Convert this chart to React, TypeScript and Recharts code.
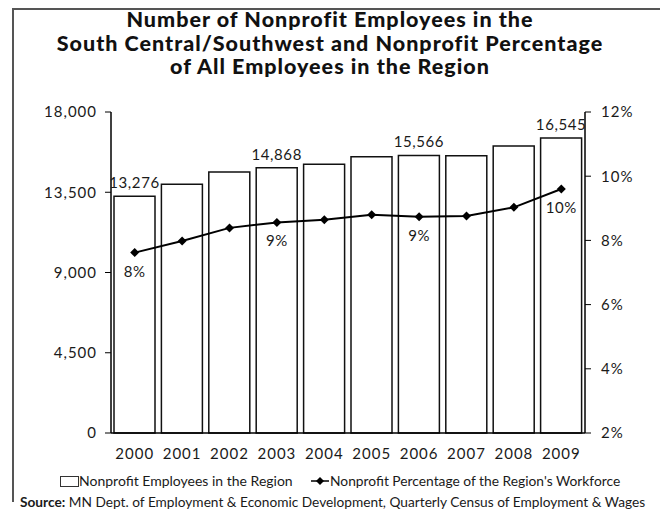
import React from 'react';
import { ComposedChart, Bar, Line, XAxis, YAxis, LabelList } from 'recharts';

const years = ['2000', '2001', '2002', '2003', '2004', '2005', '2006', '2007', '2008', '2009'];
const employees = [13276, 13946, 14636, 14868, 15067, 15495, 15566, 15548, 16093, 16545];
const percentages = [7.62, 7.98, 8.39, 8.56, 8.64, 8.8, 8.74, 8.76, 9.03, 9.6];
const labeledIndices = [0, 3, 6, 9];
const leftTicks = [0, 4500, 9000, 13500, 18000];
const rightTicks = [2, 4, 6, 8, 10, 12];
const titleLines = [
  'Number of Nonprofit Employees in the',
  'South Central/Southwest and Nonprofit Percentage',
  'of All Employees in the Region',
];
const barLegend = 'Nonprofit Employees in the Region';
const lineLegend = "Nonprofit Percentage of the Region's Workforce";
const sourceText = 'MN Dept. of Employment & Economic Development, Quarterly Census of Employment & Wages';

const data = years.map((y, i) => ({ year: y, employees: employees[i], pct: percentages[i] }));

const FONT = 'Lato, "DejaVu Sans", sans-serif';
const TXT = '#1a1a1a';

const fmt = (v: number) => v.toLocaleString('en-US');

const Diamond = (props: any) => {
  const { cx, cy } = props;
  if (cx == null || cy == null) return null;
  const r = 4.5;
  return <polygon points={`${cx},${cy - r} ${cx + r},${cy} ${cx},${cy + r} ${cx - r},${cy}`} fill="#000" />;
};

const BarLabel = (props: any) => {
  const { x, y, width, value, index } = props;
  if (!labeledIndices.includes(index)) return null;
  return (
    <text x={x + width / 2} y={y - 8} textAnchor="middle" fontSize={15} letterSpacing={0.6} fill={TXT} fontFamily={FONT}>
      {fmt(value)}
    </text>
  );
};

const LineLabel = (props: any) => {
  const { x, y, value, index } = props;
  if (!labeledIndices.includes(index)) return null;
  return (
    <text x={x} y={y + 24} textAnchor="middle" fontSize={15} letterSpacing={0.6} fill={TXT} fontFamily={FONT}>
      {`${Math.round(value)}%`}
    </text>
  );
};

const tickStyle = { fontSize: 15, fill: TXT, fontFamily: FONT, letterSpacing: 1 };

export default function App() {
  return (
    <div style={{ position: 'absolute', left: 0, top: 0, width: 660, height: 511, background: '#fff', overflow: 'hidden', fontFamily: FONT }}>
      <div style={{ position: 'absolute', left: 12, top: 8, width: 648, height: 2, background: '#555' }} />
      <div style={{ position: 'absolute', left: 12, top: 8, width: 2, height: 494, background: '#555' }} />
      <div style={{ position: 'absolute', left: 0, top: 8, width: 660, textAlign: 'center', fontWeight: 900, fontSize: 21.5, letterSpacing: 1, lineHeight: '23.5px', color: '#111' }}>
        {titleLines.map((t) => (
          <div key={t}>{t}</div>
        ))}
      </div>
      <div style={{ position: 'absolute', left: 0, top: 0 }}>
        <ComposedChart width={660} height={511} data={data} margin={{ top: 112, left: 0, right: 0, bottom: 48 }}>
          <XAxis
            dataKey="year"
            height={30}
            tickLine={false}
            tickSize={0}
            tickMargin={15}
            axisLine={{ stroke: '#000', strokeWidth: 1.5 }}
            tick={tickStyle}
          />
          <YAxis
            yAxisId="left"
            width={111}
            domain={[0, 18000]}
            ticks={leftTicks}
            tickFormatter={fmt}
            tickSize={6}
            tickMargin={8}
            axisLine={{ stroke: '#000', strokeWidth: 1.5 }}
            tickLine={{ stroke: '#000' }}
            tick={tickStyle}
          />
          <YAxis
            yAxisId="right"
            orientation="right"
            width={75}
            domain={[2, 12]}
            ticks={rightTicks}
            tickFormatter={(v: number) => `${v}%`}
            tickSize={6}
            tickMargin={10}
            axisLine={{ stroke: '#000', strokeWidth: 1.5 }}
            tickLine={{ stroke: '#000' }}
            tick={tickStyle}
          />
          <Bar yAxisId="left" dataKey="employees" fill="#fff" stroke="#111" strokeWidth={1.5} barSize={41} isAnimationActive={false}>
            <LabelList dataKey="employees" content={<BarLabel />} />
          </Bar>
          <Line yAxisId="right" dataKey="pct" stroke="#000" strokeWidth={2} dot={<Diamond />} activeDot={false} isAnimationActive={false}>
            <LabelList dataKey="pct" content={<LineLabel />} />
          </Line>
        </ComposedChart>
      </div>
      <div style={{ position: 'absolute', left: 0, top: 472, width: 660, height: 18, fontSize: 14, color: TXT, lineHeight: '18px', whiteSpace: 'nowrap' }}>
        <div style={{ position: 'absolute', left: 60, top: 4, width: 17, height: 9, border: '1px solid #333', background: '#fff' }} />
        <span style={{ position: 'absolute', left: 79, top: 0 }}>{barLegend}</span>
        <svg style={{ position: 'absolute', left: 310, top: 3 }} width={20} height={12}>
          <line x1={1} y1={6} x2={19} y2={6} stroke="#000" strokeWidth={1.5} />
          <polygon points="10,2 14,6 10,10 6,6" fill="#000" />
        </svg>
        <span style={{ position: 'absolute', left: 330, top: 0, fontSize: 13.8 }}>{lineLegend}</span>
      </div>
      <div style={{ position: 'absolute', left: 20, top: 494, fontSize: 13.7, color: TXT, lineHeight: '16px', whiteSpace: 'nowrap' }}>
        <b>Source:</b> {sourceText}
      </div>
    </div>
  );
}
